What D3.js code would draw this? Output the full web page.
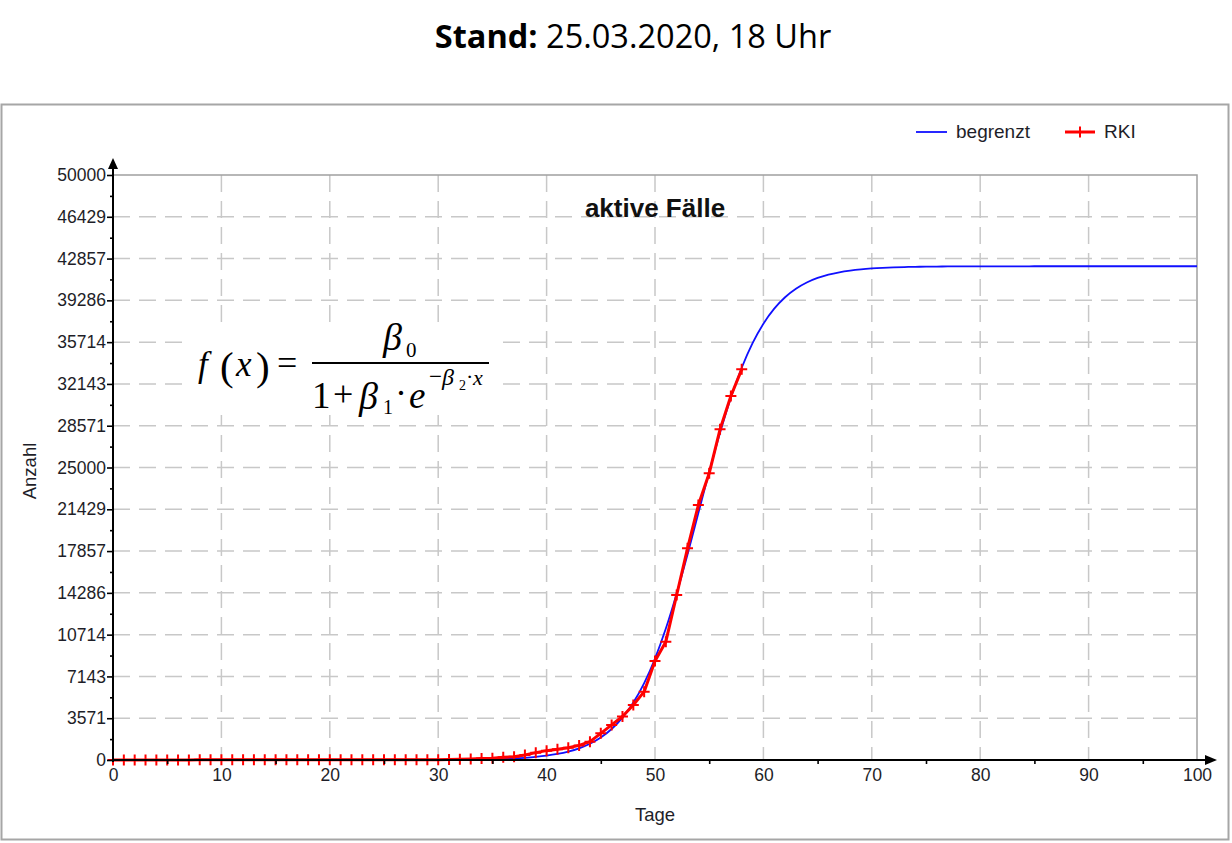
<!DOCTYPE html>
<html>
<head>
<meta charset="utf-8">
<script src="https://cdn.jsdelivr.net/npm/d3@7"></script>
<style>
  body { margin: 0; background: #fff; }
  svg { display: block; }
  .axis text { font-family: "Liberation Sans", Arial, sans-serif; font-size: 17.5px; fill: #1e1e28; }
  .axis path { display: none; }
  .axis line { stroke: #000; stroke-width: 1.6; }
</style>
</head>
<body>
<div id="chart"></div>
<script>
var
  width = 1232,
  height = 843;

// Kurve "begrenzt", Index = Tag (0..100)
var begrenzt = [
  0, 0, 0, 0, 0, 0, 0, 0, 0, 0,
  0, 0, 0, 0, 0, 0, 0, 0, 0, 0,
  0, 1, 1, 1, 2, 2, 3, 5, 6, 9,
  13, 18, 25, 35, 49, 69, 96, 134, 188, 263,
  368, 515, 719, 1000, 1390, 1922, 2647, 3622, 4907, 6573,
  8674, 11232, 14228, 17568, 21100, 24632, 27972, 30966, 33526, 35627,
  37292, 38578, 39554, 40278, 40811, 41200, 41482, 41685, 41831, 41937,
  42012, 42065, 42104, 42131, 42151, 42165, 42175, 42182, 42187, 42191,
  42194, 42196, 42197, 42198, 42198, 42199, 42199, 42199, 42200, 42200,
  42200, 42200, 42200, 42200, 42200, 42200, 42200, 42200, 42200, 42200,
  42200
];

// RKI aktive Fälle, Index = Tag (0..58)
var rki = [
  0, 1, 4, 4, 5, 7, 8, 10, 12, 12,
  13, 14, 14, 16, 16, 16, 16, 16, 16, 16,
  16, 16, 16, 16, 16, 16, 16, 16, 18, 21,
  30, 40, 60, 80, 120, 160, 230, 285, 430, 630,
  800, 910, 1050, 1250, 1570, 2280, 3000, 3720, 4700, 5840,
  8460, 10110, 14100, 18090, 21790, 24500, 28260, 31110, 33390
];

var xTicks = [0, 10, 20, 30, 40, 50, 60, 70, 80, 90, 100];
var xMinor = [5, 15, 25, 35, 45, 55, 65, 75, 85, 95];
var yTicks = [0, 3571, 7143, 10714, 14286, 17857, 21429, 25000, 28571, 32143, 35714, 39286, 42857, 46429, 50000];

var svg = d3.select("#chart")
  .append("svg")
  .attr("width", width)
  .attr("height", height);

var x = d3.scaleLinear().domain([0, 100]).range([113, 1197]);
var y = d3.scaleLinear().domain([0, 50000]).range([760, 175]);

// Titel
var title = svg.append("text")
  .attr("x", 633)
  .attr("y", 48)
  .attr("text-anchor", "middle")
  .style("font-family", "'Open Sans', 'Noto Sans', sans-serif")
  .style("font-size", "32.5px")
  .style("fill", "#000");
title.append("tspan").style("font-weight", "bold").text("Stand:");
title.append("tspan").text(" 25.03.2020, 18 Uhr");

// Rahmen
svg.append("rect")
  .attr("x", 1.5).attr("y", 104.5)
  .attr("width", 1227).attr("height", 735)
  .attr("fill", "#fff")
  .attr("stroke", "#a6a6a6")
  .attr("stroke-width", 2);

// Gitter
svg.append("g").selectAll("line")
  .data(yTicks.slice(1, -1))
  .enter().append("line")
  .attr("x1", x(0)).attr("x2", x(100))
  .attr("y1", function(d) { return y(d); })
  .attr("y2", function(d) { return y(d); })
  .attr("stroke", "#c8c8c8")
  .attr("stroke-width", 1.5)
  .attr("stroke-dasharray", "17,9");

svg.append("g").selectAll("line")
  .data(xTicks.slice(1, -1))
  .enter().append("line")
  .attr("x1", function(d) { return x(d); })
  .attr("x2", function(d) { return x(d); })
  .attr("y1", y(50000)).attr("y2", y(0))
  .attr("stroke", "#c8c8c8")
  .attr("stroke-width", 1.5)
  .attr("stroke-dasharray", "17,9");

// obere und rechte Begrenzung
svg.append("path")
  .attr("d", "M" + x(0) + "," + y(50000) + "H" + x(100) + "V" + y(0))
  .attr("fill", "none")
  .attr("stroke", "#a0a0a0")
  .attr("stroke-width", 1.5);

// Formel (weisser Hintergrund)
svg.append("rect")
  .attr("x", 190).attr("y", 322)
  .attr("width", 306).attr("height", 93)
  .attr("fill", "#fff");

var formel = svg.append("g")
  .style("font-family", "'Liberation Serif', 'Times New Roman', serif")
  .style("fill", "#000");

function ftext(s, px, py, size, italic) {
  formel.append("text")
    .attr("x", px).attr("y", py)
    .style("font-size", size + "px")
    .style("font-style", italic ? "italic" : "normal")
    .text(s);
}

ftext("f", 198, 376, 35, true);
ftext("(", 220, 380, 41, false);
ftext("x", 236, 376, 35, true);
ftext(")", 256, 380, 41, false);
ftext("=", 277, 375, 36, false);
formel.append("line")
  .attr("x1", 312).attr("x2", 489)
  .attr("y1", 363).attr("y2", 363)
  .attr("stroke", "#000").attr("stroke-width", 1.8);
ftext("\u03B2", 383, 350, 38, true);
ftext("0", 406, 357, 21, false);
ftext("1", 312, 408, 37, false);
ftext("+", 333, 406, 36, false);
ftext("\u03B2", 359, 409, 38, true);
ftext("1", 383, 414, 20, false);
ftext("\u00B7", 395, 405, 36, false);
ftext("e", 409, 408, 37, true);
ftext("\u2212", 429, 384, 23, false);
ftext("\u03B2", 442, 385, 24, true);
ftext("2", 459, 390, 14, false);
ftext("\u00B7", 466, 384, 22, false);
ftext("x", 473, 385, 22, true);

// Kurven
var lineB = d3.line()
  .x(function(d, i) { return x(i); })
  .y(function(d) { return y(d); })
  .curve(d3.curveMonotoneX);

var lineR = d3.line()
  .x(function(d, i) { return x(i); })
  .y(function(d) { return y(d); });

svg.append("path")
  .datum(begrenzt)
  .attr("d", lineB)
  .attr("fill", "none")
  .attr("stroke", "#1010ff")
  .attr("stroke-width", 1.8);

svg.append("path")
  .datum(rki)
  .attr("d", lineR)
  .attr("fill", "none")
  .attr("stroke", "#ff0000")
  .attr("stroke-width", 3)
  .attr("stroke-linejoin", "round");

svg.append("g").selectAll("path")
  .data(rki)
  .enter().append("path")
  .attr("transform", function(d, i) { return "translate(" + x(i) + "," + y(d) + ")"; })
  .attr("d", "M-5.5,0H5.5M0,-5.5V5.5")
  .attr("stroke", "#ff0000")
  .attr("stroke-width", 2);

// Achsen
svg.append("g")
  .attr("class", "axis")
  .attr("transform", "translate(" + x(0) + ",0)")
  .call(d3.axisLeft(y).tickValues(yTicks).tickFormat(function(d) { return d; }).tickSize(6).tickPadding(1));

svg.append("g")
  .attr("class", "axis")
  .attr("transform", "translate(" + x(0) + ",0)")
  .call(d3.axisLeft(y)
    .tickValues(yTicks.slice(1).map(function(d, i) { return (d + yTicks[i]) / 2; }))
    .tickFormat("").tickSize(3));

svg.append("g")
  .attr("class", "axis")
  .attr("transform", "translate(0," + y(0) + ")")
  .call(d3.axisBottom(x).tickValues(xTicks).tickSize(0).tickPadding(9));

svg.append("g")
  .attr("class", "axis")
  .attr("transform", "translate(0," + y(0) + ")")
  .call(d3.axisBottom(x).tickValues(xMinor).tickFormat("").tickSize(4));

svg.append("line")
  .attr("x1", x(0)).attr("x2", 1208)
  .attr("y1", y(0)).attr("y2", y(0))
  .attr("stroke", "#000").attr("stroke-width", 2);
svg.append("line")
  .attr("x1", x(0)).attr("x2", x(0))
  .attr("y1", y(0) + 2).attr("y2", 166)
  .attr("stroke", "#000").attr("stroke-width", 2);
svg.append("path")
  .attr("d", "M1217," + y(0) + "L1205," + (y(0) - 5) + "L1205," + (y(0) + 5) + "Z")
  .attr("fill", "#000");
svg.append("path")
  .attr("d", "M" + x(0) + ",158L" + (x(0) - 5) + ",169L" + (x(0) + 5) + ",169Z")
  .attr("fill", "#000");

// Beschriftungen
var sans = "'Liberation Sans', Arial, sans-serif";

svg.append("text")
  .attr("x", 655).attr("y", 217)
  .attr("text-anchor", "middle")
  .style("font-family", sans)
  .style("font-size", "26px")
  .style("font-weight", "bold")
  .style("fill", "#111")
  .text("aktive Fälle");

svg.append("text")
  .attr("x", 655).attr("y", 821)
  .attr("text-anchor", "middle")
  .style("font-family", sans)
  .style("font-size", "18.5px")
  .style("fill", "#1e1e28")
  .text("Tage");

svg.append("text")
  .attr("transform", "translate(36,471) rotate(-90)")
  .attr("text-anchor", "middle")
  .style("font-family", sans)
  .style("font-size", "18.5px")
  .style("fill", "#1e1e28")
  .text("Anzahl");

// Legende
var legend = svg.append("g");
legend.append("line")
  .attr("x1", 916).attr("x2", 947).attr("y1", 132).attr("y2", 132)
  .attr("stroke", "#1010ff").attr("stroke-width", 1.8);
legend.append("text")
  .attr("x", 956).attr("y", 138)
  .style("font-family", sans).style("font-size", "19px").style("fill", "#1e1e28")
  .text("begrenzt");
legend.append("line")
  .attr("x1", 1065).attr("x2", 1095).attr("y1", 132).attr("y2", 132)
  .attr("stroke", "#ff0000").attr("stroke-width", 3);
legend.append("path")
  .attr("transform", "translate(1080,132)")
  .attr("d", "M-5.5,0H5.5M0,-5.5V5.5")
  .attr("stroke", "#ff0000").attr("stroke-width", 2);
legend.append("text")
  .attr("x", 1104).attr("y", 138)
  .style("font-family", sans).style("font-size", "19px").style("fill", "#1e1e28")
  .text("RKI");
</script>
</body>
</html>
